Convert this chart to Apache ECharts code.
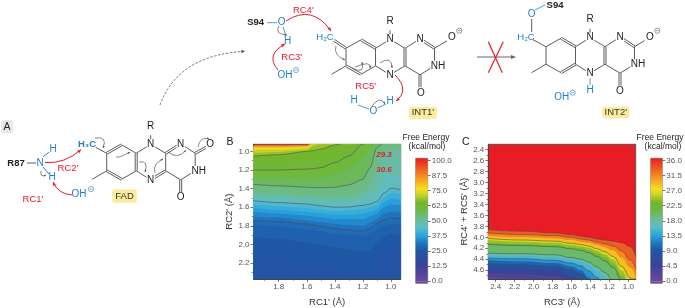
<!DOCTYPE html>
<html><head><meta charset="utf-8">
<style>html,body{margin:0;padding:0;background:#fff}#c{width:685px;height:308px}</style>
<script src="https://cdn.jsdelivr.net/npm/echarts@6/dist/echarts.min.js"></script>
</head><body><div id="c"></div>
<script>
// ---------- Panel B: RC2' position of each free-energy level along RC1'
const rc1 = [1.98,1.8,1.6,1.55,1.5,1.4,1.3,1.2,1.15,1.1,1.05,1.0,0.93];
const isoB92 = [.932,.932,.93,.9,.9,.9,.9,.9,.9,.9,.9,.9,.9];
const isoB84 = [.945,.945,.94,.9,.9,.9,.9,.9,.9,.9,.9,.9,.9];
const isoB78 = [.96,.96,.955,.9,.9,.9,.9,.9,.9,.9,.9,.9,.9];
const isoB72 = [.98,.978,.965,.91,.9,.9,.9,.9,.9,.9,.9,.9,.9];
const isoB68 = [1.015,1.005,.985,.94,.9,.9,.9,.9,.9,.9,.9,.9,.9];
const isoB65 = [1.05,1.035,1.0,.99,.975,.93,.9,.9,.9,.9,.9,.9,.9];
const isoB62 = [1.12,1.11,1.09,1.08,1.07,1.02,.95,.9,.9,.9,.9,.9,.9];
const isoB60 = [1.2,1.2,1.19,1.185,1.175,1.12,1.05,.92,.9,.9,.9,.9,.9];
const isoB57 = [1.28,1.28,1.29,1.29,1.28,1.25,1.19,1.08,.97,.9,.9,.9,.9];
const isoB54 = [1.355,1.37,1.385,1.39,1.39,1.385,1.36,1.3,1.18,.96,.9,.9,.9];
const isoB50 = [1.44,1.46,1.475,1.48,1.49,1.49,1.48,1.45,1.38,1.2,1.02,.98,1.0];
const isoB47 = [1.49,1.51,1.53,1.535,1.54,1.55,1.54,1.52,1.47,1.42,1.28,1.25,1.27];
const isoB44 = [1.53,1.55,1.565,1.575,1.585,1.6,1.597,1.58,1.565,1.54,1.45,1.395,1.41];
const isoB41 = [1.57,1.59,1.61,1.62,1.625,1.64,1.635,1.62,1.6,1.58,1.5,1.45,1.46];
const isoB38 = [1.61,1.63,1.65,1.66,1.665,1.68,1.68,1.67,1.65,1.62,1.55,1.51,1.52];
const isoB35 = [1.65,1.67,1.69,1.7,1.71,1.73,1.73,1.73,1.7,1.67,1.6,1.57,1.58];
const isoB32 = [1.7,1.71,1.74,1.75,1.76,1.78,1.79,1.8,1.77,1.73,1.67,1.65,1.65];
const isoB30 = [1.74,1.755,1.78,1.79,1.805,1.83,1.845,1.855,1.825,1.78,1.735,1.715,1.72];
const isoB28 = [1.79,1.81,1.84,1.85,1.86,1.89,1.9,1.91,1.88,1.84,1.8,1.78,1.79];
const isoB26 = [1.92,1.94,1.98,1.99,2.0,2.03,2.05,2.08,2.06,2.0,1.92,1.88,1.9];
const isoB24 = [2.1,2.15,2.2,2.22,2.24,2.27,2.3,2.3,2.3,2.3,2.1,2.0,2.05];
const levelsB = [92,84,78,72,68,65,62,60,57,54,50,47,44,41,38,35,32,30,28,26,24];
const isoB = [isoB92,isoB84,isoB78,isoB72,isoB68,isoB65,isoB62,isoB60,isoB57,isoB54,isoB50,isoB47,isoB44,isoB41,isoB38,isoB35,isoB32,isoB30,isoB28,isoB26,isoB24];
const contoursB = [65,60,54,44,30];

// ---------- Panel C: RC4'+RC5' position of each free-energy level along RC3'
const rc3 = [2.48,2.13,1.77,1.6,1.5,1.42,1.33,1.25,1.16,1.07,0.98,0.92];
const isoC34 = [3.86,3.89,3.92,3.95,3.98,4.0,4.03,4.05,4.07,4.1,4.17,4.35];
const isoC32 = [3.92,3.95,3.97,4.0,4.03,4.05,4.09,4.12,4.16,4.25,4.41,4.58];
const isoC30 = [3.97,4.0,4.02,4.05,4.08,4.1,4.14,4.18,4.24,4.37,4.55,4.73];
const isoC27 = [4.02,4.05,4.07,4.11,4.13,4.16,4.21,4.26,4.35,4.53,4.74,4.9];
const isoC25 = [4.05,4.08,4.1,4.14,4.16,4.19,4.25,4.31,4.41,4.61,4.85,5];
const isoC23 = [4.095,4.12,4.14,4.18,4.2,4.23,4.29,4.36,4.48,4.7,4.91,5];
const isoC21 = [4.13,4.15,4.17,4.21,4.24,4.28,4.35,4.43,4.55,4.78,5,5];
const isoC18 = [4.29,4.30,4.32,4.37,4.4,4.45,4.54,4.64,4.78,5,5,5];
const isoC16 = [4.33,4.34,4.37,4.41,4.45,4.51,4.61,4.73,4.95,5,5,5];
const isoC14 = [4.38,4.39,4.42,4.47,4.52,4.61,4.73,4.9,5,5,5,5];
const isoC11 = [4.42,4.44,4.47,4.53,4.6,4.73,4.9,5,5,5,5,5];
const isoC9 = [4.48,4.5,4.53,4.6,4.67,4.78,5,5,5,5,5,5];
const isoC6 = [4.57,4.58,4.61,4.7,4.79,4.9,5,5,5,5,5,5];
const isoC4 = [4.64,4.66,4.7,4.78,4.9,5,5,5,5,5,5,5];
const isoC2 = [4.73,4.76,4.9,5,5,5,5,5,5,5,5,5];
const levelsC = [34,32,30,27,25,23,21,18,16,14,11,9,6,4,2];
const isoC = [isoC34,isoC32,isoC30,isoC27,isoC25,isoC23,isoC21,isoC18,isoC16,isoC14,isoC11,isoC9,isoC6,isoC4,isoC2];
const contoursC = [34,32,27,21,18,14,9,4];

// ---------- tick labels
const ticksRC1 = [1.8,1.6,1.4,1.2,1.0];
const minorRC1 = [1.9,1.7,1.5,1.3,1.1];
const ticksRC2 = [1.0,1.2,1.4,1.6,1.8,2.0,2.2];
const minorRC2 = [1.1,1.3,1.5,1.7,1.9,2.1,2.3];
const ticksRC3 = [2.4,2.2,2.0,1.8,1.6,1.4,1.2,1.0];
const minorRC3 = [2.3,2.1,1.9,1.7,1.5,1.3,1.1];
const ticksRC45 = [2.4,2.6,2.8,3.0,3.2,3.4,3.6,3.8,4.0,4.2,4.4,4.6];
const minorRC45 = [2.5,2.7,2.9,3.1,3.3,3.5,3.7,3.9,4.1,4.3,4.5,4.7];
const ticksBarB = [0,12.5,25,37.5,50,62.5,75,87.5,100];
const ticksBarC = [0,4.5,9,13.5,18,22.5,27,31.5,36];

// palette shared by both colour bars (fraction of scale, colour)
const paletteStops = [[0,'#6a4a9c'],[.125,'#3a429a'],[.25,'#1f57a5'],[.31,'#2074bf'],[.375,'#29a8e0'],[.44,'#5cbcc8'],[.5,'#6abc9a'],[.58,'#6cb83e'],[.64,'#72b62c'],[.7,'#c4d228'],[.75,'#f6e01e'],[.875,'#f47c20'],[1,'#e81c24']];
const FONT = '"Liberation Sans", Arial, sans-serif';
const hex = c => [1,3,5].map(i => parseInt(c.substr(i,2),16));
function colorAt(f){
  for(let i=1;i<paletteStops.length;i++){
    if(f<=paletteStops[i][0]){
      const [a,ca]=paletteStops[i-1],[b,cb]=paletteStops[i];
      const t=(f-a)/(b-a),x=hex(ca),y=hex(cb);
      return 'rgb('+x.map((v,k)=>Math.round(v+(y[k]-v)*t)).join(',')+')';
    }
  }
  return paletteStops[paletteStops.length-1][1];
}
const fmt = v => (+v).toFixed(1);
const tickColor='#555';
function mainAxis(idx,min,max,major,pos,name,gap,rot){
  return {gridIndex:idx,type:'value',min,max,inverse:true,position:pos,scale:true,
    name,nameLocation:'middle',nameGap:gap,nameRotate:rot,
    nameTextStyle:{fontFamily:FONT,fontSize:9.5,color:'#333'},
    axisLine:{show:true,onZero:false,lineStyle:{color:'#444',width:1}},
    axisTick:{show:true,length:3,customValues:major,lineStyle:{color:tickColor,width:.8}},
    axisLabel:{show:true,customValues:major,formatter:fmt,fontFamily:FONT,fontSize:8,color:'#555',margin:4},
    splitLine:{show:false}};
}
function minorAxis(idx,min,max,minor,pos){
  return {gridIndex:idx,type:'value',min,max,inverse:true,position:pos,scale:true,
    axisLine:{show:false,onZero:false},
    axisTick:{show:true,length:1.8,customValues:minor,lineStyle:{color:tickColor,width:.7}},
    axisLabel:{show:false},splitLine:{show:false}};
}
function barAxis(idx,min,max,ticks){
  return {gridIndex:idx,type:'value',min,max,position:'right',scale:true,
    axisLine:{show:false},
    axisTick:{show:true,length:3,customValues:ticks,lineStyle:{color:tickColor,width:.8}},
    axisLabel:{show:true,customValues:ticks,formatter:fmt,fontFamily:FONT,fontSize:8,color:'#555',margin:4},
    splitLine:{show:false}};
}
const grad = {type:'linear',x:0,y:0,x2:0,y2:1,colorStops:paletteStops.map(s=>({offset:1-s[0],color:s[1]})).reverse()};
const grids = [
 {left:253.5,top:144.3,width:147.2,height:139,show:true,backgroundColor:colorAt(1),borderColor:'#555',borderWidth:1},
 {left:415.7,top:158.3,width:12,height:125,show:true,backgroundColor:'#fff',borderColor:'#999',borderWidth:1},
 {left:488.3,top:144.3,width:147.4,height:139,show:true,backgroundColor:colorAt(1),borderColor:'#555',borderWidth:1},
 {left:650.7,top:158.3,width:11.6,height:125,show:true,backgroundColor:'#fff',borderColor:'#999',borderWidth:1}
];
const xAxes = [
 mainAxis(0,0.93,1.98,ticksRC1,'bottom',"RC1' (Å)",18),
 {gridIndex:1,type:'category',data:['bar'],show:false},
 mainAxis(2,0.922,2.478,ticksRC3,'bottom',"RC3' (Å)",18),
 {gridIndex:3,type:'category',data:['bar'],show:false},
 minorAxis(0,0.93,1.98,minorRC1,'bottom'),
 minorAxis(2,0.922,2.478,minorRC3,'bottom')
];
const yAxes = [
 mainAxis(0,0.923,2.373,ticksRC2,'left',"RC2' (Å)",18,90),
 barAxis(1,-1.7,101.7,ticksBarB),
 mainAxis(2,2.305,4.76,ticksRC45,'left',"RC4' + RC5' (Å)",17,90),
 barAxis(3,-.61,36.61,ticksBarC),
 minorAxis(0,0.923,2.373,minorRC2,'left'),
 minorAxis(2,2.305,4.76,minorRC45,'left')
];
const series = [];
function addPanel(axisIdx,xs,levels,isos,contours,top,sm){
  levels.forEach((L,i)=>{
    series.push({type:'line',xAxisIndex:axisIdx,yAxisIndex:axisIdx,animation:false,silent:true,
      data:xs.map((x,k)=>[x,isos[i][k]]),showSymbol:false,smooth:sm,smoothMonotone:'x',
      lineStyle:{width:0},areaStyle:{origin:'end',color:colorAt((L-(i<levels.length-1?(L-levels[i+1])/2:1))/top),opacity:1},z:2+i*.01});
  });
  levels.forEach((L,i)=>{
    if(contours.includes(L)) series.push({type:'line',xAxisIndex:axisIdx,yAxisIndex:axisIdx,animation:false,silent:true,
      data:xs.map((x,k)=>[x,isos[i][k]]),showSymbol:false,smooth:sm,smoothMonotone:'x',
      lineStyle:{width:.7,color:'#4a4a4a',opacity:.8},z:4});
  });
}
addPanel(0,rc1,levelsB,isoB,contoursB,100,.25);
addPanel(2,rc3,levelsC,isoC,contoursC,36,.45);
function addBar(idx,top,low){
  series.push({type:'bar',xAxisIndex:idx,yAxisIndex:idx,stack:'b'+idx,barWidth:'100%',animation:false,silent:true,data:[top],itemStyle:{color:grad}});
  series.push({type:'bar',xAxisIndex:idx,yAxisIndex:idx,stack:'b'+idx,barWidth:'100%',animation:false,silent:true,data:[low],itemStyle:{color:paletteStops[0][1]}});
}
addBar(1,101.7,-1.7);
addBar(3,36.61,-.61);

// ---------- reaction scheme (drawn, not data)
const g = [];
const BOND='#5c5c5c', BLUE='#2680c8', RED='#e8192c', CURL='#555';
const AT=10;
function seg(x1,y1,x2,y2,c,w,dash){g.push({type:'line',silent:true,z:10,shape:{x1,y1,x2,y2},style:{stroke:c||BOND,lineWidth:w||1,lineDash:dash||null}});}
function dbl(x1,y1,x2,y2,c){const d=Math.hypot(x2-x1,y2-y1),nx=-(y2-y1)/d*1,ny=(x2-x1)/d*1;seg(x1+nx,y1+ny,x2+nx,y2+ny,c);seg(x1-nx,y1-ny,x2-nx,y2-ny,c);}
function txt(x,y,t,o){o=o||{};g.push({type:'text',silent:true,z:12,x,y,style:{text:t,fill:o.c||'#222',font:(o.st||'')+' '+(o.b?'bold ':'')+(o.s||9)+'px '+FONT,textAlign:o.a||'center',textVerticalAlign:'middle',backgroundColor:o.bg||null,padding:o.bg?[0,.5]:null}});}
function atom(x,y,t){txt(x,y,t,{bg:'#fff',c:'#222',s:AT,b:false});}
function minus(x,y,c){g.push({type:'circle',silent:true,z:12,shape:{cx:x,cy:y,r:2.6},style:{fill:'none',stroke:c,lineWidth:.6}});seg(x-1.5,y,x+1.5,y,c,.6);}
function box(x1,y1,x2,y2,t){g.push({type:'rect',silent:true,z:9,shape:{x:x1,y:y1,width:x2-x1,height:y2-y1,r:2},style:{fill:'#fbeb9c'}});txt((x1+x2)/2,(y1+y2)/2,t,{s:9.5,c:'#333'});}
function curve(x1,y1,cx,cy,x2,y2,c,w,head,dash){
  g.push({type:'bezierCurve',silent:true,z:11,shape:{x1,y1,x2,y2,cpx1:cx,cpy1:cy},style:{stroke:c,lineWidth:w,fill:'none',lineDash:dash||null}});
  const a=Math.atan2(y2-cy,x2-cx),h=head;
  g.push({type:'polygon',silent:true,z:11,shape:{points:[[x2,y2],[x2-h*Math.cos(a-.42),y2-h*Math.sin(a-.42)],[x2-h*Math.cos(a+.42),y2-h*Math.sin(a+.42)]]},style:{fill:c}});
}
const P={A:[0,0],B:[15,-8.5],C:[29.5,0],D:[29.5,17.5],E:[15,26],F:[0,17.5],N1:[44,-9],G:[59,0],H:[59,17.5],N2:[44,26.5],N3:[74,-9.5],I:[88.5,0],J:[88.5,17.5],K:[74,26.5]};
const RING=[['A','B'],['B','C'],['C','D'],['D','E'],['E','F'],['F','A'],['C','N1'],['N1','G'],['G','H'],['H','N2'],['N2','D'],['G','N3'],['N3','I'],['I','J'],['J','K'],['K','H']];
function flavin(ox,oy,doubles,n2Label){
  RING.forEach(([a,b])=>{
    const key=a+'-'+b, f=doubles.includes(key)?dbl:seg;
    f(ox+P[a][0],oy+P[a][1],ox+P[b][0],oy+P[b][1]);
  });
  seg(ox,oy+17.5,ox-14.5,oy+26); // methyl
  seg(ox+44,oy-9,ox+44,oy-18);   // N-R
  txt(ox+44,oy-27,'R',{s:AT});
  dbl(ox+74,oy+26.5,ox+74,oy+39);
  atom(ox+44,oy-9,'N');atom(ox+74,oy-9.5,'N');atom(ox+44,oy+26.5,n2Label||'N');
  atom(ox+92,oy+17.5,'NH');
}
// FAD
const FX=106.7,FY=153.3;
flavin(FX,FY,['A-B','C-D','E-F','H-N2','G-N3'],'N');
seg(FX,FY,FX-11,FY-6);
dbl(FX+88.5,FY,FX+103,FY-8);
atom(FX+74,FY+44,'O');atom(FX+103.5,FY-9,'O');
txt(87,144,'H₃C',{c:BLUE,b:true,s:9.5});
txt(16,163,'R87',{b:true,s:9.5,c:'#222'});seg(27,163,36,163);txt(40,163,'N',{c:BLUE,s:AT});
seg(43,157,49,152,BLUE);seg(43,167,49,174,BLUE);
txt(53,149.5,'H',{c:BLUE,s:AT});txt(52,177,'H',{c:BLUE,s:AT});
txt(68,168,"RC2'",{c:RED,s:9.5});txt(33,199.5,"RC1'",{c:RED,s:9.5});
txt(79,194.5,'OH',{c:BLUE,s:AT});minus(91,189,BLUE);
curve(45,162.5,65,164,81,149.5,RED,1,4);
curve(72,195,58,194,53,182,RED,1,4);
curve(41,171,40,178,46,175,CURL,.7,2.2);
curve(95,138,108,136,103,148,CURL,.7,2.5);
curve(116,157,120,158,130,152,CURL,.7,2.5);
curve(139,162,149,160,145,172,CURL,.7,2.5);
curve(155,173,152,164,163,159,CURL,.7,2.5);
curve(168,152,178,160,186,150,CURL,.7,2.5);
curve(198,147,200,136,209,139,CURL,.7,2.5);
txt(7,127,'A',{s:10.5});g.push({type:'rect',silent:true,z:8,shape:{x:1,y:120,width:12,height:13,r:2},style:{fill:'#e8e8e8'}});
box(112.3,189.3,136.7,202.7,'FAD');

// INT1'
const IX=346,IY=48.3;
flavin(IX,IY,['B-C','D-N2','E-F','G-H','N3-I'],'N');
dbl(IX,IY,IX-12,IY-8);seg(IX+88.5,IY,IX+101,IY-7.5);
atom(IX+75,IY+44.5,'O');atom(IX+106,IY-11,'O');minus(459.3,30.7,'#555');
txt(325,37.7,'H₂C',{c:BLUE,s:9.5});
txt(255.7,22.7,'S94',{b:true,s:9.5});seg(267,22.7,277,22.7,BLUE,.8);txt(281.7,22.7,'O',{c:BLUE,s:AT});
seg(283,27,286,36,BLUE,.8);txt(287.7,41.7,'H',{c:BLUE,s:AT});
txt(285,75,'OH',{c:BLUE,s:AT});minus(296,70,BLUE);
txt(291.7,57.3,"RC3'",{c:RED,s:9.5});txt(303.3,10,"RC4'",{c:RED,s:9.5});txt(365.7,86.7,"RC5'",{c:RED,s:9.5});
curve(278,70,265,55,285,44,RED,1,4);
curve(286,21,312,4,331,31,RED,1,4);
curve(395,75,410,90,396,101,RED,1,4);
curve(279,26,274,34,287,35,CURL,.7,2.5);
curve(336,46,333,55,345,60,CURL,.7,2.5);
curve(352,68,365,75,362,62,CURL,.7,2.5);
curve(355,67,372,60,370,68,CURL,.7,2.5);
curve(380,63,392,55,392,68,CURL,.7,2.5);
txt(354,100.7,'H',{c:BLUE,s:AT});txt(373.3,111,'O',{c:BLUE,s:AT});txt(390,101.7,'H',{c:BLUE,s:AT});
seg(358,105,369,109,BLUE,.8);seg(377.5,108,386,104,BLUE,.8);
curve(372,106,380,95,385,104,CURL,.7,2.5);
box(409,106.7,436.7,119,"INT1'");

// INT2'
const JX=546,JY=46.7;
flavin(JX,JY,['A-F','B-C','D-E','G-H','N3-I'],'N');
seg(JX,JY,JX-13,JY-7);seg(JX+88.5,JY,JX+98.5,JY-6);
atom(JX+74,JY+45,'O');atom(JX+104,JY-9.4,'O');minus(657.3,30.7,'#555');
txt(555,5,'S94',{b:true,s:9.5});seg(535,10,545,5,BLUE,.8);txt(531.7,14,'O',{c:BLUE,s:AT});
seg(531.7,19,531.7,32,BOND,1);txt(526,37.3,'H₂C',{c:BLUE,s:9.5});
seg(590,78,590,85,BLUE,.8);txt(590,90,'H',{c:BLUE,s:AT});
txt(561.7,97.3,'OH',{c:BLUE,s:AT});minus(572.7,92.7,BLUE);
box(602.3,106.7,629.3,118.3,"INT2'");

// reaction arrows
seg(477,57,512,57,'#666',1);
g.push({type:'polygon',silent:true,z:10,shape:{points:[[516,57],[511,55],[511,59]]},style:{fill:'#666'}});
seg(488.3,41.7,502.3,72.7,RED,1.2);seg(503.3,41.7,488.3,72.7,RED,1.2);
curve(160,105,178,55,245,51.3,'#555',.8,4,[2.5,1.5]);

// panel letters, colour-bar titles, annotated values
txt(230,142.3,'B',{s:10.5});txt(465.7,142.3,'C',{s:10.5});
txt(426,138,'Free Energy',{s:8.5});txt(427,147,'(kcal/mol)',{s:8.5});
txt(660,138,'Free Energy',{s:8.5});txt(663,147,'(kcal/mol)',{s:8.5});
txt(384,155,'29.3',{c:RED,s:8,b:true,st:'italic'});txt(384,169.3,'30.6',{c:RED,s:8,b:true,st:'italic'});

const chart = echarts.init(document.getElementById('c'),null,{renderer:'canvas'});
chart.setOption({animation:false,backgroundColor:'#fff',grid:grids,xAxis:xAxes,yAxis:yAxes,series,graphic:{elements:g}});
</script></body></html>
